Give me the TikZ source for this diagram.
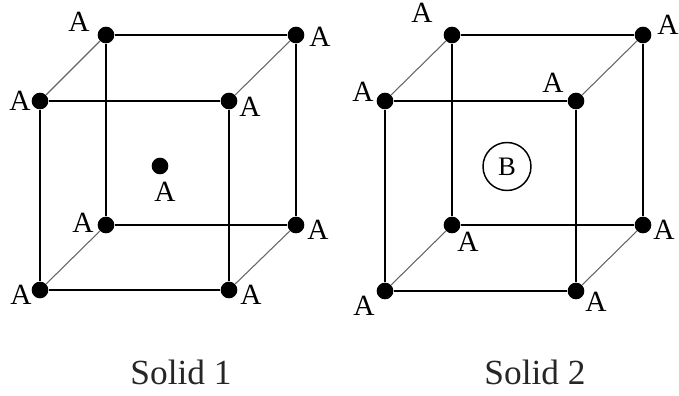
\documentclass[tikz,border=0pt]{standalone}
\usepackage{fontspec}
\setmainfont{Liberation Serif}
\tikzset{
 atom/.style={circle,fill=black,inner sep=0pt,minimum size=12.5pt},
 lab/.style={inner sep=0pt,font=\fontsize{22}{24}\selectfont},
 captext/.style={inner sep=0pt,font=\fontsize{26.5}{29}\selectfont,text=black!85},
 heavy/.style={line width=1.5pt,black},
 light/.style={line width=0.8pt,black!60},
}
\begin{document}
\begin{tikzpicture}[x=0.75pt,y=-0.75pt]
\useasboundingbox (0,0) rectangle (679,396);
% Solid 1
\foreach \n/\x/\y in {a/106/35,b/296/35,c/40/101,d/229/101,e/106/225,f/296/225,g/40/290,h/229/290,m/160/166}
  \node[atom] (\n) at (\x,\y) {};
\draw[heavy] (a)--(b) (c)--(d) (e)--(f) (g)--(h)
 (a)--(e) (b)--(f) (c)--(g) (d)--(h);
\draw[light] (a)--(c) (b)--(d) (e)--(g) (f)--(h);
\foreach \n/\x/\y in {la/79/22,lb/320/37,lc/20/101,ld/250/107,lm/165/192,le/83/223,lf/318/230,lg/21/295,lh/251/295}
  \node[lab] (\n) at (\x,\y) {A};
% Solid 2
\foreach \n/\x/\y in {p/452/35,q/643/35,r/385/101,s/576/101,t/452/225,u/643/225,v/385/291,w/576/291}
  \node[atom] (\n) at (\x,\y) {};
\draw[heavy] (p)--(q) (r)--(s) (t)--(u) (v)--(w)
 (p)--(t) (q)--(u) (r)--(v) (s)--(w);
\draw[light] (p)--(r) (q)--(s) (t)--(v) (u)--(w);
\foreach \n/\x/\y in {lp/422/13,lq/668/25,lr/363/92,ls/553/83,lt/468/242,lu/664/230,lv/364/306,lw/596/302}
  \node[lab] (\n) at (\x,\y) {A};
\node[circle,draw,line width=1.1pt,minimum size=36pt,inner sep=0pt,font=\fontsize{20}{22}\selectfont] (bb) at (507,166.5) {B};
% Captions
\node[captext] (c1) at (181,372) {Solid 1};
\node[captext] (c2) at (535,372) {Solid 2};
\end{tikzpicture}
\end{document}
